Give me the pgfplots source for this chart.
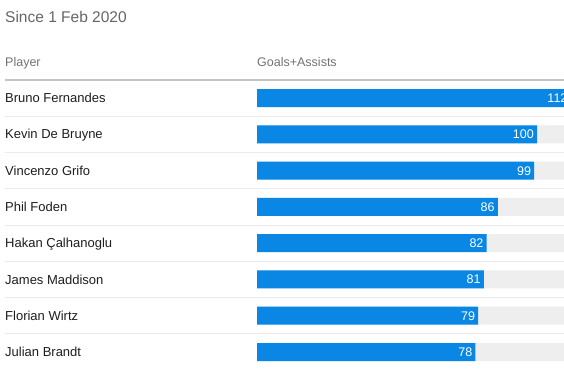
\documentclass[border=0pt]{standalone}
\usepackage{pgfplots}
\pgfplotsset{compat=1.18}
\usepackage{fontspec}
\setmainfont{Liberation Sans}
\definecolor{barblue}{HTML}{0A87E4}
\definecolor{track}{HTML}{EEEEEE}
\definecolor{sep}{HTML}{EBEBEB}
\definecolor{topline}{HTML}{C4C4C4}
\definecolor{titlegray}{HTML}{666666}
\definecolor{headgray}{HTML}{737373}
\definecolor{namecol}{HTML}{1E1E1E}
\begin{document}
\begin{tikzpicture}[x=1pt,y=1pt]
\path[use as bounding box] (0,0) rectangle (564,368);
\clip (0,0) rectangle (564,368);
\fill[white] (0,0) rectangle (564,368);
\node[anchor=base west, inner sep=0pt, font=\fontsize{15.5}{18}\selectfont, text=titlegray] at (5,346) {Since 1 Feb 2020};
\node[anchor=base west, inner sep=0pt, font=\fontsize{12.5}{15}\selectfont, text=headgray] at (5,302) {Player};
\node[anchor=base west, inner sep=0pt, font=\fontsize{12.5}{15}\selectfont, text=headgray] at (257,302) {Goals+Assists};
\begin{axis}[
  at={(5pt,-2.15pt)}, anchor=south west, scale only axis,
  width=559pt, height=290.3pt,
  xbar, bar width=18pt, bar shift=0pt,
  xmin=-90, xmax=109.64, ymin=-0.5, ymax=7.5, y dir=reverse,
  axis line style={draw=none}, xtick=\empty,
  ytick={0,...,7},
  yticklabels={Bruno Fernandes,Kevin De Bruyne,Vincenzo Grifo,Phil Foden,Hakan Çalhanoglu,James Maddison,Florian Wirtz,Julian Brandt},
  major tick length=0pt, minor tick length=0pt,
  minor ytick={0.5,1.5,...,6.5}, yminorgrids,
  minor grid style={sep, line width=1pt},
  extra y ticks={-0.5}, extra y tick labels={},
  extra y tick style={ymajorgrids=true, major grid style={topline, line width=1.5pt}},
  yticklabel style={anchor=west, inner sep=0pt, font=\fontsize{13}{15}\selectfont, text=namecol, text height=9.4pt, text depth=0pt},
  /pgf/number format/assume math mode=true,
  clip=false,
]
\addplot[fill=track, draw=none] coordinates {(120,0) (120,1) (120,2) (120,3) (120,4) (120,5) (120,6) (120,7)};
\addplot[fill=barblue, draw=none, nodes near coords,
  nodes near coords style={anchor=east, xshift=-3pt, inner sep=0pt, text=white, font=\fontsize{12.5}{15}\selectfont, text height=9pt, text depth=0pt}]
  coordinates {(112,0) (100,1) (99,2) (86,3) (82,4) (81,5) (79,6) (78,7)};
\end{axis}
\end{tikzpicture}
\end{document}
